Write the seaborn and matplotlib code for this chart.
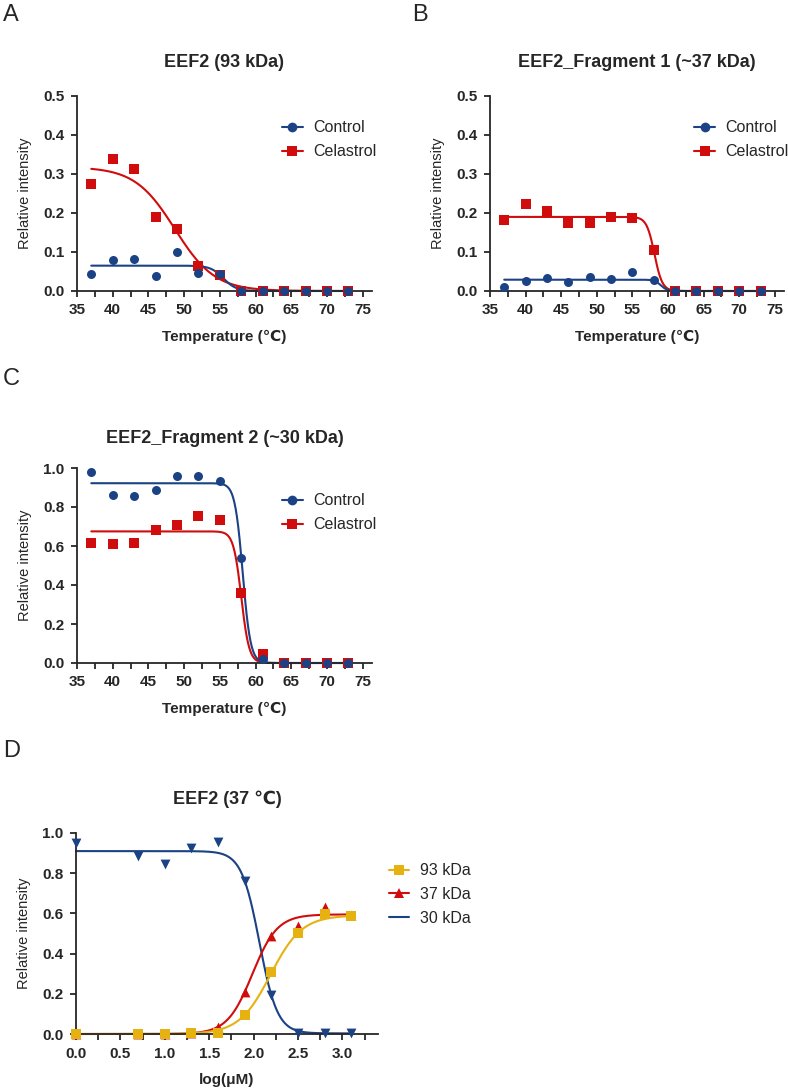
import numpy as np
import pandas as pd
import matplotlib
matplotlib.use("Agg")
import matplotlib.pyplot as plt
from matplotlib.lines import Line2D
from matplotlib.ticker import MultipleLocator
import seaborn as sns

# ---------------- data ----------------
temps = [37, 40, 43, 46, 49, 52, 55, 58, 61, 64, 67, 70, 73]

a_control = [0.044, 0.079, 0.083, 0.038, 0.100, 0.047, 0.043, 0, 0, 0, 0, 0, 0]
a_celastrol = [0.275, 0.338, 0.312, 0.191, 0.158, 0.064, 0.040, 0, 0, 0, 0, 0, 0]

b_control = [0.011, 0.026, 0.034, 0.022, 0.035, 0.030, 0.049, 0.028, 0, 0, 0, 0, 0]
b_celastrol = [0.182, 0.223, 0.206, 0.175, 0.174, 0.190, 0.188, 0.104, 0, 0, 0, 0, 0]

c_control = [0.981, 0.863, 0.858, 0.886, 0.961, 0.961, 0.935, 0.537, 0.019, 0, 0, 0, 0]
c_celastrol = [0.614, 0.612, 0.615, 0.682, 0.706, 0.752, 0.732, 0.361, 0.046, 0, 0, 0, 0]

# Boltzmann fit parameters: [top, bottom, Tm, slope]
a_control_fit = [0.065, 0.0, 55.5, 0.9]
a_celastrol_fit = [0.318, 0.0, 48.7, 2.8]
b_control_fit = [0.029, 0.0, 59.0, 0.45]
b_celastrol_fit = [0.190, 0.0, 58.1, 0.55]
c_control_fit = [0.922, 0.0, 58.2, 0.55]
c_celastrol_fit = [0.675, 0.0, 58.0, 0.55]

log_conc = [0.0, 0.7, 1.0, 1.3, 1.6, 1.9, 2.2, 2.5, 2.8, 3.1]
d_93 = [0.0, 0.0, 0.0, 0.003, 0.003, 0.095, 0.310, 0.502, 0.595, 0.587]
d_37 = [0.0, 0.0, 0.0, 0.003, 0.037, 0.210, 0.489, 0.537, 0.633, 0.590]
d_30 = [0.949, 0.886, 0.847, 0.924, 0.955, 0.761, 0.194, 0.003, 0.003, 0.003]

# 4PL fit parameters: [low-x value, high-x value, logEC50, hill]
d_93_fit = [0.0, 0.590, 2.19, 2.46]
d_37_fit = [0.0, 0.595, 1.985, 3.09]
d_30_fit = [0.910, 0.003, 2.065, 4.28]

BLUE = "#1a4285"
RED = "#d00c0c"
YELLOW = "#e6b212"

# ---------------- style ----------------
sns.set_style("ticks")
plt.rcParams["font.family"] = ["Liberation Sans", "DejaVu Sans"]
plt.rcParams["axes.linewidth"] = 1.3

fig = plt.figure(figsize=(7.88, 10.89), dpi=100)
W, H = 788, 1089


def make_ax(l, r, top, bot):
    return fig.add_axes([l / W, 1 - bot / H, (r - l) / W, (bot - top) / H])


def boltz(x, p):
    top, bottom, tm, s = p
    return bottom + (top - bottom) / (1 + np.exp((x - tm) / s))


def fourpl(x, p):
    lo, hi, mid, h = p
    return lo + (hi - lo) / (1 + 10 ** ((mid - x) * h))


def style_axis(ax, title, xlabel, title_pad):
    sns.despine(ax=ax)
    ax.set_title(title, fontsize=13, fontweight="bold", pad=title_pad)
    ax.set_xlabel(xlabel, fontsize=11, fontweight="bold", labelpad=9)
    ax.set_ylabel("Relative intensity", fontsize=10.5, labelpad=8)
    ax.tick_params(axis="both", which="both", direction="out", length=4,
                   width=1.3, labelsize=11, pad=5)
    for lab in ax.get_xticklabels() + ax.get_yticklabels():
        lab.set_fontweight("bold")


def temp_panel(ax, ctrl, cel, ctrl_fit, cel_fit, ymax, title, title_pad, leg_y):
    xs = np.linspace(37, 73, 400)
    curves = pd.DataFrame({
        "x": np.concatenate([xs, xs]),
        "y": np.concatenate([boltz(xs, cel_fit), boltz(xs, ctrl_fit)]),
        "g": ["Celastrol"] * len(xs) + ["Control"] * len(xs),
    })
    pts = pd.DataFrame({
        "x": temps + temps,
        "y": cel + ctrl,
        "g": ["Celastrol"] * len(temps) + ["Control"] * len(temps),
    })
    sns.lineplot(data=curves[curves.g == "Celastrol"], x="x", y="y", color=RED,
                 lw=1.5, ax=ax, clip_on=False, zorder=2)
    sns.lineplot(data=curves[curves.g == "Control"], x="x", y="y", color=BLUE,
                 lw=1.5, ax=ax, clip_on=False, zorder=2)
    sns.scatterplot(data=pts[pts.g == "Celastrol"], x="x", y="y", color=RED,
                    marker="s", s=44, linewidth=0, ax=ax, clip_on=False, zorder=3)
    sns.scatterplot(data=pts[pts.g == "Control"], x="x", y="y", color=BLUE,
                    marker="o", s=42, linewidth=0, ax=ax, clip_on=False, zorder=4)
    ax.set_xlim(35, 76.3)
    ax.set_ylim(0, ymax)
    ax.set_xticks(np.arange(35, 76, 5))
    ax.xaxis.set_minor_locator(MultipleLocator(2.5))
    step = 0.2 if ymax == 1.0 else 0.1
    yt = np.arange(0, ymax + 1e-9, step)
    ax.set_yticks(yt)
    ax.set_yticklabels([f"{v:.1f}" for v in yt])
    style_axis(ax, title, "Temperature (\u2103)", title_pad)
    handles = [
        Line2D([], [], color=BLUE, lw=1.5, marker="o", ms=7, mew=0),
        Line2D([], [], color=RED, lw=1.5, marker="s", ms=7, mew=0),
    ]
    ax.legend(handles, ["Control", "Celastrol"], loc="upper left",
              bbox_to_anchor=(0.695, leg_y), frameon=False, fontsize=11.5,
              handlelength=1.3, handletextpad=0.65, borderpad=0,
              borderaxespad=0, labelspacing=0.55)


axA = make_ax(77, 372, 96, 291)
temp_panel(axA, a_control, a_celastrol, a_control_fit, a_celastrol_fit,
           0.5, "EEF2 (93 kDa)", 21, 0.875)

axB = make_ax(490, 784, 96, 291)
temp_panel(axB, b_control, b_celastrol, b_control_fit, b_celastrol_fit,
           0.5, "EEF2_Fragment 1 (~37 kDa)", 21, 0.875)

axC = make_ax(77, 372, 468, 663)
temp_panel(axC, c_control, c_celastrol, c_control_fit, c_celastrol_fit,
           1.0, "EEF2_Fragment 2 (~30 kDa)", 18, 0.87)

# ---------------- panel D ----------------
axD = make_ax(76, 378, 833, 1034)
xs = np.linspace(0, 3.1, 400)
for fit, col in [(d_30_fit, BLUE), (d_37_fit, RED), (d_93_fit, YELLOW)]:
    sns.lineplot(x=xs, y=fourpl(xs, fit), color=col, lw=1.5, ax=axD,
                 clip_on=False, zorder=2)
sns.scatterplot(x=log_conc, y=d_30, color=BLUE, marker="v", s=50, linewidth=0,
                ax=axD, clip_on=False, zorder=3)
sns.scatterplot(x=log_conc, y=d_37, color=RED, marker="^", s=50, linewidth=0,
                ax=axD, clip_on=False, zorder=4)
sns.scatterplot(x=log_conc, y=d_93, color=YELLOW, marker="s", s=50, linewidth=0,
                ax=axD, clip_on=False, zorder=5)
axD.set_xlim(0, 3.4)
axD.set_ylim(0, 1.0)
xt = np.arange(0, 3.01, 0.5)
axD.set_xticks(xt)
axD.set_xticklabels([f"{v:.1f}" for v in xt])
axD.xaxis.set_minor_locator(MultipleLocator(0.25))
yt = np.arange(0, 1.01, 0.2)
axD.set_yticks(yt)
axD.set_yticklabels([f"{v:.1f}" for v in yt])
style_axis(axD, "EEF2 (37 \u2103)", "log(\u03bcM)", 21)
handlesD = [
    Line2D([], [], color=YELLOW, lw=1.5, marker="s", ms=7, mew=0),
    Line2D([], [], color=RED, lw=1.5, marker="^", ms=7.5, mew=0),
    Line2D([], [], color=BLUE, lw=1.5),
]
axD.legend(handlesD, ["93 kDa", "37 kDa", "30 kDa"], loc="upper left",
           bbox_to_anchor=(1.035, 0.85), frameon=False, fontsize=11.5,
           handlelength=1.3, handletextpad=0.65, borderpad=0,
           borderaxespad=0, labelspacing=0.55)

# ---------------- panel letters ----------------
for letter, x, y in [("A", 3, 4), ("B", 412, 4), ("C", 3, 368), ("D", 3, 740)]:
    fig.text(x / W, 1 - y / H, letter, fontsize=17, ha="left", va="top")

fig.savefig("out.png", dpi=100)
